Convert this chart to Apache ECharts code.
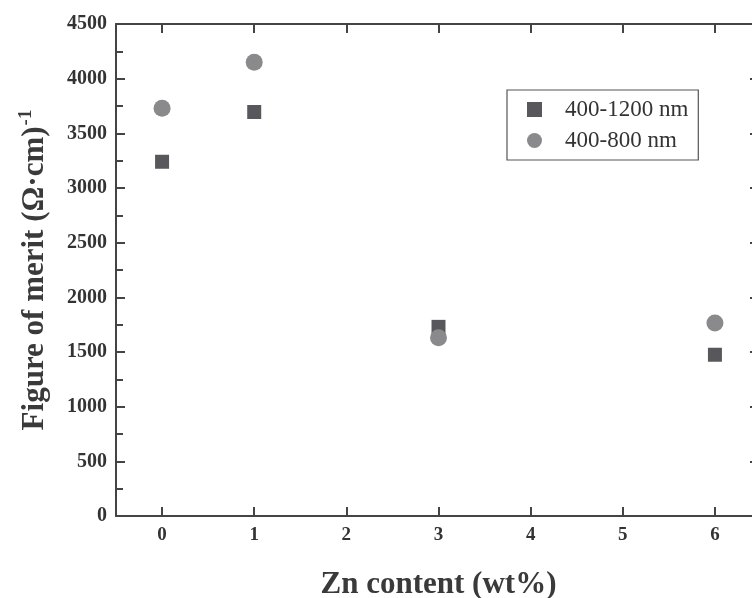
<!DOCTYPE html>
<html>
<head>
<meta charset="utf-8">
<script src="https://cdn.jsdelivr.net/npm/echarts@6/dist/echarts.min.js"></script>
<style>
  html, body { margin: 0; padding: 0; background: #fff; }
  #chart { width: 752px; height: 598px; }
</style>
</head>
<body>
<div id="chart"></div>
<script>
// Zn content (wt%) and figure of merit for two wavelength windows
const znContent = [0, 1, 3, 6];
const merit1200 = [3240, 3695, 1730, 1475];
const merit800 = [3730, 4150, 1630, 1765];
const xTicks = [0, 1, 2, 3, 4, 5, 6];

const serif = "'Liberation Serif', 'DejaVu Serif', serif";
const axisColor = "#444";

function pairs(xs, ys) {
    return xs.map((x, i) => [x, ys[i]]);
}

const chart = echarts.init(document.getElementById("chart"));

const tickStyle = { color: axisColor, width: 2 };

chart.setOption({
    animation: false,
    backgroundColor: "#fff",
    // the frame runs past the right edge of the picture, as in the scan
    grid: { left: 116, top: 24, width: 645, height: 492, outerBoundsMode: "none" },
    legend: {
        orient: "vertical",
        left: 507,
        top: 90,
        padding: [8, 10, 8, 20],
        itemGap: 8,
        itemWidth: 15,
        itemHeight: 15,
        borderColor: "#555",
        borderWidth: 1.2,
        borderRadius: 0,
        textStyle: { fontFamily: serif, fontSize: 23, color: "#333", padding: [0, 0, 0, 18] },
        data: [
            { name: "400-1200 nm", icon: "rect" },
            { name: "400-800 nm", icon: "circle" }
        ]
    },
    xAxis: [
        {
            type: "value",
            min: -0.5,
            max: 6.5,
            name: "Zn content (wt%)",
            nameLocation: "middle",
            nameGap: 53,
            nameTextStyle: { fontFamily: serif, fontSize: 31, fontWeight: "bold", color: "#3a3a3a" },
            splitLine: { show: false },
            axisLine: { onZero: false, lineStyle: tickStyle },
            axisTick: { inside: true, length: 9, customValues: xTicks, lineStyle: tickStyle },
            axisLabel: {
                customValues: xTicks,
                margin: 10,
                fontFamily: serif, fontSize: 19, fontWeight: "bold", color: "#333"
            }
        },
        {
            type: "value",
            position: "top",
            min: -0.5,
            max: 6.5,
            splitLine: { show: false },
            axisLine: { onZero: false, lineStyle: tickStyle },
            axisTick: { inside: true, length: 9, customValues: xTicks, lineStyle: tickStyle },
            axisLabel: { show: false }
        }
    ],
    yAxis: [
        {
            type: "value",
            min: 0,
            max: 4500,
            interval: 500,
            name: "{a|Figure of merit (\u03A9\u00B7cm)}{s|-1}",
            nameLocation: "middle",
            nameRotate: 90,
            nameGap: 63,
            nameTextStyle: {
                rich: {
                    a: { fontFamily: serif, fontSize: 31, fontWeight: "bold", color: "#3a3a3a", lineHeight: 36 },
                    s: { fontFamily: serif, fontSize: 19, fontWeight: "bold", color: "#3a3a3a", verticalAlign: "top", lineHeight: 36, padding: [0, 0, 16, 1] }
                }
            },
            splitLine: { show: false },
            axisLine: { show: true, onZero: false, lineStyle: tickStyle },
            axisTick: { show: true, inside: true, length: 9, lineStyle: tickStyle },
            minorTick: { show: true, splitNumber: 2, length: 7, lineStyle: tickStyle },
            axisLabel: {
                margin: 9,
                formatter: (v) => String(v),
                fontFamily: serif, fontSize: 20, fontWeight: "bold", color: "#333"
            }
        },
        {
            type: "value",
            position: "right",
            min: 0,
            max: 4500,
            interval: 500,
            splitLine: { show: false },
            axisLine: { show: true, onZero: false, lineStyle: tickStyle },
            axisTick: { show: true, inside: true, length: 11, lineStyle: tickStyle },
            minorTick: { show: true, splitNumber: 2, length: 9, lineStyle: tickStyle },
            axisLabel: { show: false }
        }
    ],
    series: [
        {
            name: "400-1200 nm",
            type: "scatter",
            symbol: "rect",
            symbolSize: 14,
            itemStyle: { color: "#58585c", opacity: 1 },
            data: pairs(znContent, merit1200)
        },
        {
            name: "400-800 nm",
            type: "scatter",
            symbol: "circle",
            symbolSize: 17,
            itemStyle: { color: "#8a8a8c", opacity: 1 },
            data: pairs(znContent, merit800)
        }
    ]
});
</script>
</body>
</html>
